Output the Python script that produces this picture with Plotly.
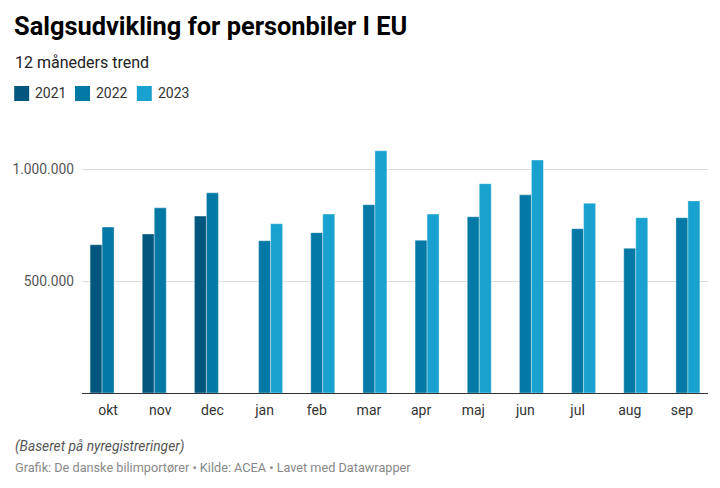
import plotly.graph_objects as go

months = ["okt", "nov", "dec", "jan", "feb", "mar", "apr", "maj", "jun", "jul", "aug", "sep"]
s2021 = [663000, 711000, 791000, None, None, None, None, None, None, None, None, None]
s2022 = [742000, 828000, 895000, 681000, 717000, 842000, 683000, 788000, 886000, 735000, 647000, 784000]
s2023 = [None, None, None, 757000, 800000, 1083000, 800000, 936000, 1042000, 849000, 784000, 859000]
series_names = ["2021", "2022", "2023"]
colors = ["#03577e", "#0479a5", "#19a2cf"]
tick_vals = [500000, 1000000]
tick_text = ["500.000", "1.000.000"]

W, H = 720, 488
L, R, T, B = 80, 12, 147, 95

fig = go.Figure()
for name, vals, c in zip(series_names, [s2021, s2022, s2023], colors):
    fig.add_trace(go.Bar(
        x=months, y=vals, name=name, marker=dict(color=c, line=dict(color="rgba(255,255,255,0.6)", width=0.6)),
        showlegend=False, hovertemplate="%{x} " + name + ": %{y:,.0f}<extra></extra>",
    ))

def py(ypix):
    return (H - B - ypix) / (H - T - B)

def pxx(xpix):
    return (xpix - L) / (W - L - R)

shapes = []
annotations = []
positions = [12, 73, 135]
for name, c, px in zip(series_names, colors, positions):
    shapes.append(dict(type="rect", xref="paper", yref="paper",
                       x0=pxx(px), x1=pxx(px + 15), y0=py(101), y1=py(86),
                       fillcolor=c, line=dict(width=0)))
    annotations.append(dict(text=name, xref="paper", yref="paper",
                            x=pxx(px + 19), y=py(93.5),
                            xanchor="left", yanchor="middle", showarrow=False,
                            font=dict(family="Roboto", size=14, color="#333333")))

annotations += [
    dict(text="<b>Salgsudvikling for personbiler I EU</b>", xref="paper", yref="paper",
         x=pxx(10), y=py(26), xanchor="left", yanchor="middle", showarrow=False,
         font=dict(family="Roboto", size=25.4, color="#000000")),
    dict(text="12 måneders trend", xref="paper", yref="paper",
         x=pxx(11), y=py(62), xanchor="left", yanchor="middle", showarrow=False,
         font=dict(family="Roboto", size=16, color="#222222")),
    dict(text="<i>(Baseret på nyregistreringer)</i>", xref="paper", yref="paper",
         x=pxx(11), y=py(446), xanchor="left", yanchor="middle", showarrow=False,
         font=dict(family="Roboto", size=13.8, color="#555555")),
    dict(text="Grafik: De danske bilimportører • Kilde: ACEA • Lavet med Datawrapper", xref="paper", yref="paper",
         x=pxx(11), y=py(467), xanchor="left", yanchor="middle", showarrow=False,
         font=dict(family="Roboto", size=12.7, color="#888888")),
]

fig.update_layout(
    width=W, height=H,
    margin=dict(l=L, r=R, t=T, b=B),
    paper_bgcolor="white", plot_bgcolor="white",
    barmode="group", bargap=0.31, bargroupgap=0,
    font=dict(family="Roboto", size=13, color="#333333"),
    shapes=shapes, annotations=annotations,
    xaxis=dict(showgrid=False, showline=True, linecolor="#333333", linewidth=1.3,
               tickfont=dict(family="Roboto", size=14, color="#333333"), ticks="",
               ticklabelstandoff=4, fixedrange=True),
    yaxis=dict(range=[0, 1100000], tickvals=tick_vals, ticktext=tick_text,
               showgrid=True, gridcolor="#dddddd", gridwidth=1, zeroline=False,
               tickfont=dict(family="Roboto", size=13.8, color="#555555"),
               ticks="", ticklabelstandoff=7, fixedrange=True),
)

fig.write_html("out.html")
